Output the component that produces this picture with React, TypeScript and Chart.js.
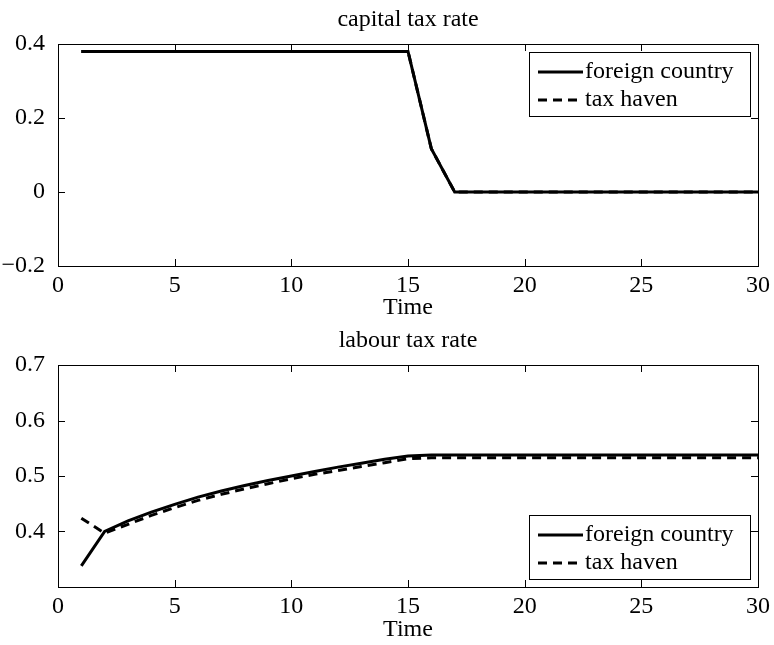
import React, { useEffect, useRef } from "react";
import { Chart, registerables } from "chart.js";

Chart.register(...registerables);

// ---------- data ----------
const time = [1, 2, 3, 4, 5, 6, 7, 8, 9, 10, 11, 12, 13, 14, 15, 16, 17, 18, 19, 20, 21, 22, 23, 24, 25, 26, 27, 28, 29, 30];

const capitalForeign = [
  0.38, 0.38, 0.38, 0.38, 0.38, 0.38, 0.38, 0.38, 0.38, 0.38, 0.38, 0.38, 0.38, 0.38, 0.38,
  0.117, 0, 0, 0, 0, 0, 0, 0, 0, 0, 0, 0, 0, 0, 0,
];
const capitalHaven = [
  0.38, 0.38, 0.38, 0.38, 0.38, 0.38, 0.38, 0.38, 0.38, 0.38, 0.38, 0.38, 0.38, 0.38, 0.38,
  0.117, 0, 0, 0, 0, 0, 0, 0, 0, 0, 0, 0, 0, 0, 0,
];

const labourForeign = [
  0.338, 0.4, 0.419, 0.435, 0.449, 0.462, 0.473, 0.483, 0.492, 0.5, 0.508, 0.516, 0.523, 0.53, 0.536,
  0.538, 0.538, 0.538, 0.538, 0.538, 0.538, 0.538, 0.538, 0.538, 0.538, 0.538, 0.538, 0.538, 0.538, 0.538,
];
const labourHaven = [
  0.424, 0.397, 0.413, 0.429, 0.443, 0.456, 0.467, 0.477, 0.486, 0.495, 0.503, 0.51, 0.517, 0.524, 0.531,
  0.533, 0.533, 0.533, 0.533, 0.533, 0.533, 0.533, 0.533, 0.533, 0.533, 0.533, 0.533, 0.533, 0.533, 0.533,
];

const seriesNames = ["foreign country", "tax haven"];
const titles = ["capital tax rate", "labour tax rate"];
const xLabel = "Time";
const xTicks = [0, 5, 10, 15, 20, 25, 30];
const yTicksTop = [-0.2, 0, 0.2, 0.4];
const yTicksBottom = [0.4, 0.5, 0.6, 0.7];

// ---------- styling ----------
const FONT = "'Liberation Serif', 'Times New Roman', serif";
const FS = 24;

const fmt = (v: number) => {
  const r = Math.round(v * 10) / 10;
  if (r === 0) return "0";
  return (r < 0 ? "\u2212" : "") + Math.abs(r).toString();
};

const decorPlugin = {
  id: "decor",
  afterDraw(chart: any) {
    const opts = chart.options.plugins.decor;
    const { ctx, chartArea } = chart;
    const { left, right, top, bottom } = chartArea;
    const xs = chart.scales.x;
    const ys = chart.scales.y;
    ctx.save();
    // box
    ctx.strokeStyle = "#000";
    ctx.lineWidth = 1;
    ctx.setLineDash([]);
    ctx.strokeRect(Math.round(left) + 0.5, Math.round(top) + 0.5, Math.round(right - left), Math.round(bottom - top));
    // inward ticks
    const TL = 7;
    ctx.beginPath();
    xs.ticks.forEach((t: any) => {
      const px = Math.round(xs.getPixelForValue(t.value)) + 0.5;
      ctx.moveTo(px, bottom);
      ctx.lineTo(px, bottom - TL);
      ctx.moveTo(px, top);
      ctx.lineTo(px, top + TL);
    });
    ys.ticks.forEach((t: any) => {
      const py = Math.round(ys.getPixelForValue(t.value)) + 0.5;
      ctx.moveTo(left, py);
      ctx.lineTo(left + TL, py);
      ctx.moveTo(right, py);
      ctx.lineTo(right - TL, py);
    });
    ctx.stroke();
    // title
    ctx.fillStyle = "#000";
    ctx.font = `${FS}px ${FONT}`;
    ctx.textAlign = "center";
    ctx.textBaseline = "alphabetic";
    ctx.fillText(opts.title, (left + right) / 2, top - 18);
    // legend
    const w = 221;
    const h = 64;
    const bx = Math.round(right - 8 - w);
    const by = opts.legend === "top" ? Math.round(top + 8) : Math.round(bottom - 8 - h);
    ctx.fillStyle = "#fff";
    ctx.fillRect(bx, by, w, h);
    ctx.strokeStyle = "#000";
    ctx.lineWidth = 1;
    ctx.strokeRect(bx + 0.5, by + 0.5, w, h);
    chart.data.datasets.forEach((ds: any, i: number) => {
      const ry = by + 20 + i * 28;
      ctx.beginPath();
      ctx.lineWidth = ds.borderWidth;
      ctx.setLineDash(ds.borderDash || []);
      ctx.strokeStyle = ds.borderColor;
      ctx.moveTo(bx + 9, ry);
      ctx.lineTo(bx + 54, ry);
      ctx.stroke();
      ctx.setLineDash([]);
      ctx.fillStyle = "#000";
      ctx.textAlign = "left";
      ctx.textBaseline = "middle";
      ctx.fillText(ds.label, bx + 56, ry);
    });
    ctx.restore();
  },
};

function makeConfig(
  title: string,
  a: number[],
  b: number[],
  yMin: number,
  yMax: number,
  yTicks: number[],
  legend: string,
  topPad: number,
  xAxisH: number,
  titlePadB: number
): any {
  return {
    type: "line",
    data: {
      datasets: [
        {
          label: seriesNames[0],
          data: time.map((t, i) => ({ x: t, y: a[i] })),
          borderColor: "#000",
          borderWidth: 3,
          pointRadius: 0,
          fill: false,
          tension: 0,
        },
        {
          label: seriesNames[1],
          data: time.map((t, i) => ({ x: t, y: b[i] })),
          borderColor: "#000",
          borderWidth: 3,
          borderDash: [9, 6],
          pointRadius: 0,
          fill: false,
          tension: 0,
        },
      ],
    },
    options: {
      animation: false,
      responsive: false,
      maintainAspectRatio: false,
      layout: { padding: { top: topPad, right: 16, left: 0, bottom: 0 } },
      plugins: {
        legend: { display: false },
        title: { display: false },
        tooltip: { enabled: false },
        decor: { title, legend },
      },
      scales: {
        x: {
          type: "linear",
          min: 0,
          max: 30,
          afterBuildTicks: (s: any) => {
            s.ticks = xTicks.map((v) => ({ value: v }));
          },
          afterFit: (s: any) => {
            s.height = xAxisH;
          },
          grid: { display: false },
          border: { display: false },
          ticks: {
            padding: -3,
            color: "#000",
            font: { family: FONT, size: FS },
            maxRotation: 0,
            autoSkip: false,
            callback: (v: number) => String(v),
          },
          title: {
            display: true,
            text: xLabel,
            color: "#000",
            font: { family: FONT, size: FS, lineHeight: 1 },
            padding: { top: 0, bottom: titlePadB },
          },
        },
        y: {
          type: "linear",
          min: yMin,
          max: yMax,
          afterBuildTicks: (s: any) => {
            s.ticks = yTicks.map((v) => ({ value: v }));
          },
          afterFit: (s: any) => {
            s.width = 58;
          },
          grid: { display: false },
          border: { display: false },
          ticks: {
            padding: 5,
            color: "#000",
            font: { family: FONT, size: FS },
            autoSkip: false,
            callback: (v: number) => fmt(v),
          },
        },
      },
    },
    plugins: [decorPlugin],
  };
}

function ChartCanvas({ config, width, height, top }: { config: any; width: number; height: number; top: number }) {
  const ref = useRef<HTMLCanvasElement | null>(null);
  useEffect(() => {
    if (!ref.current) return;
    const chart = new Chart(ref.current, config);
    return () => chart.destroy();
  }, [config]);
  return (
    <canvas
      ref={ref}
      width={width}
      height={height}
      style={{ position: "absolute", left: 0, top, width, height, display: "block" }}
    />
  );
}

const topConfig = makeConfig(titles[0], capitalForeign, capitalHaven, -0.2, 0.4, yTicksTop, "top", 44, 54, 0);
const bottomConfig = makeConfig(titles[1], labourForeign, labourHaven, 0.3, 0.7, yTicksBottom, "bottom", 45, 58, 3);

export default function App() {
  return (
    <div style={{ position: "absolute", left: 0, top: 0, width: 774, height: 645, background: "#fff" }}>
      <ChartCanvas config={topConfig} width={774} height={320} top={0} />
      <ChartCanvas config={bottomConfig} width={774} height={325} top={320} />
    </div>
  );
}
